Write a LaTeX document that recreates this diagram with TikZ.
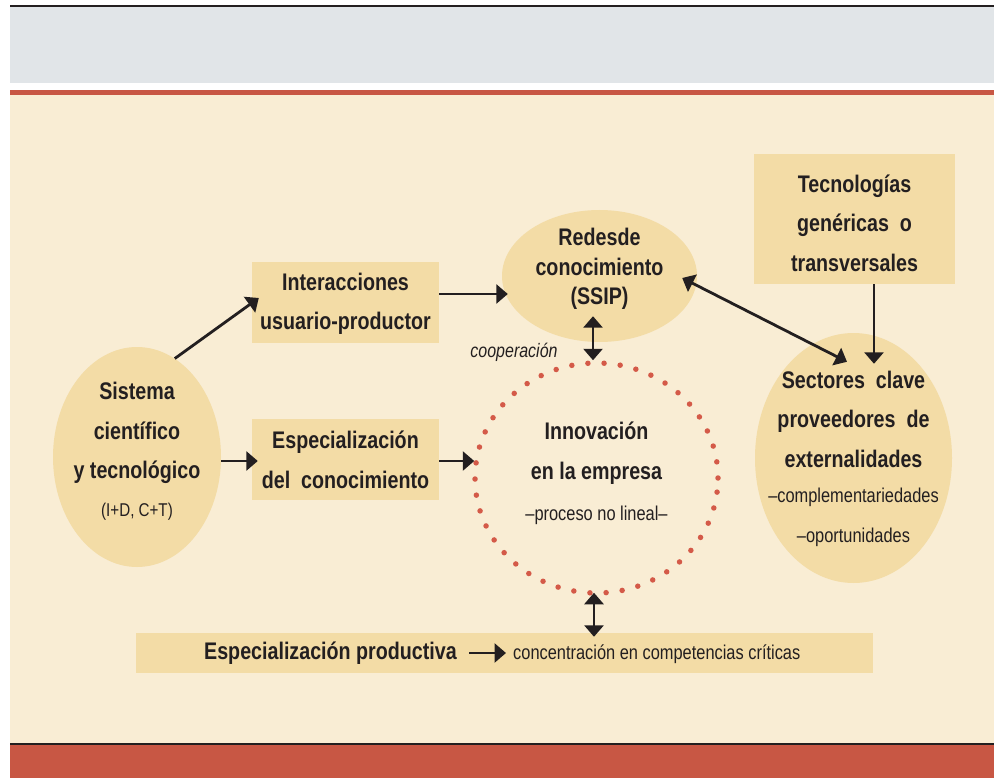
\documentclass[tikz,border=0pt]{standalone}
\usepackage{fontspec}
\setmainfont{Liberation Sans}[FakeStretch=0.82]
\usetikzlibrary{shapes.geometric,arrows.meta,calc}
\definecolor{cream}{HTML}{F9EDD4}
\definecolor{nodefill}{HTML}{F3DCA6}
\definecolor{greyband}{HTML}{E1E5E8}
\definecolor{redband}{HTML}{C85744}
\definecolor{dotred}{HTML}{D45A48}
\definecolor{ink}{HTML}{231F20}
\tikzset{
  shapebox/.style={rectangle, fill=nodefill, draw=none, inner sep=0pt},
  shapeell/.style={ellipse, fill=nodefill, draw=none, inner sep=0pt},
  lbl/.style={align=center, text=ink, inner sep=0pt, font=\bfseries\fontsize{24}{39.5}\selectfont},
  small/.style={text=ink, inner sep=0pt, font=\fontsize{20}{22}\selectfont},
  arr/.style={draw=ink, line width=2.8pt, -{Triangle[length=11.5pt,width=19pt]}},
  darr/.style={draw=ink, line width=2.8pt, {Triangle[length=11.5pt,width=19pt]}-{Triangle[length=11.5pt,width=19pt]}},
}
\begin{document}
\begin{tikzpicture}[x=1pt,y=-1pt]
\useasboundingbox (0,0) rectangle (994,778);
\fill[white] (0,0) rectangle (994,778);
% bands
\fill[ink] (10,5) rectangle (994,7.3);
\fill[greyband] (10,7.3) rectangle (994,83);
\fill[redband] (10,89.7) rectangle (994,95);
\fill[cream] (10,95) rectangle (994,742.7);
\fill[ink] (10,742.7) rectangle (994,745);
\fill[redband] (10,745) rectangle (994,778);

% shapes
\node[shapeell, minimum width=168pt, minimum height=220pt] (sis) at (137,457) {};
\node[shapebox, minimum width=187pt, minimum height=81pt] (inter) at (345.5,302.5) {};
\node[shapebox, minimum width=187pt, minimum height=81pt] (espc) at (345.5,459.5) {};
\node[shapeell, minimum width=195pt, minimum height=132pt] (redes) at (599.5,276) {};
\node[shapebox, minimum width=201pt, minimum height=130pt] (tec) at (854.5,219) {};
\node[shapeell, minimum width=197pt, minimum height=250pt] (sect) at (853.5,458) {};
\node[ellipse, inner sep=0pt, minimum width=243pt, minimum height=230pt, draw=dotred, line width=5.5pt, line cap=round, dash pattern=on 0pt off 16.2pt] (innov) at (596.5,478) {};
\node[shapebox, minimum width=737pt, minimum height=40pt] (prod) at (504.5,653) {};

% labels
\node[lbl] (tsis) at (137,433) {Sistema\\científico\\y tecnológico};
\node[small, font=\fontsize{18.5}{22}\selectfont] (tsis2) at (137,512) {(I+D, C+T)};
\node[lbl] (tinter) at (345.5,304) {Interacciones\\usuario-productor};
\node[lbl] (tespc) at (345.5,460) {Especialización\\del\ \ conocimiento};
\node[lbl, font=\bfseries\fontsize{24}{29.5}\selectfont] (tredes) at (599.5,269) {Redesde\\conocimiento\\(SSIP)};
\node[lbl] (ttec) at (854.5,223) {Tecnologías\\genéricas\ \ o\\transversales};
\node[lbl] (tsect) at (853.5,419) {Sectores\ \ clave\\proveedores\ \ de\\externalidades};
\node[small] (tsect2) at (853.5,497) {–complementariedades};
\node[small] (tsect3) at (853.5,537) {–oportunidades};
\node[lbl] (tinnov) at (596.5,453) {Innovación\\en la empresa};
\node[small] (tinnov2) at (596.5,515) {–proceso no lineal–};
\node[small, font=\itshape\fontsize{19.5}{22}\selectfont] (coop) at (514,352) {cooperación};
\node[lbl, anchor=east] (tprod) at (457,653) {Especialización productiva};
\node[small, anchor=west] (tconc) at (513,654) {concentración en competencias críticas};

% connectors
\draw[arr] (sis.69) -- ($(inter.west)+(7,-4.5)$);
\draw[arr] (sis.east |- 0,461) -- ($(espc.west |- 0,461)+(6,0)$);
\draw[arr] (espc.east |- 0,461) -- ($(innov.west |- 0,461)+(2,0)$);
\draw[arr] ($(inter.east)+(0,-8.5)$) -- ($(redes.west)+(6,18)$);
\draw[darr] ($(redes.south)+(-6.5,-26)$) -- ($(innov.north)+(-3.5,0)$);
\draw[darr] ($(redes.east)+(-15,2)$) -- ($(sect.north)+(-6.5,29)$);
\draw[arr] ($(tec.south)+(19.5,0)$) -- ($(sect.north)+(20.5,31)$);
\draw[darr] ($(innov.south)+(-2.5,-3)$) -- ($(prod.north)+(89.5,4)$);
\draw[arr] ($(tprod.east)+(12,0)$) -- ($(tconc.west)+(-7,-1)$);
\end{tikzpicture}
\end{document}
